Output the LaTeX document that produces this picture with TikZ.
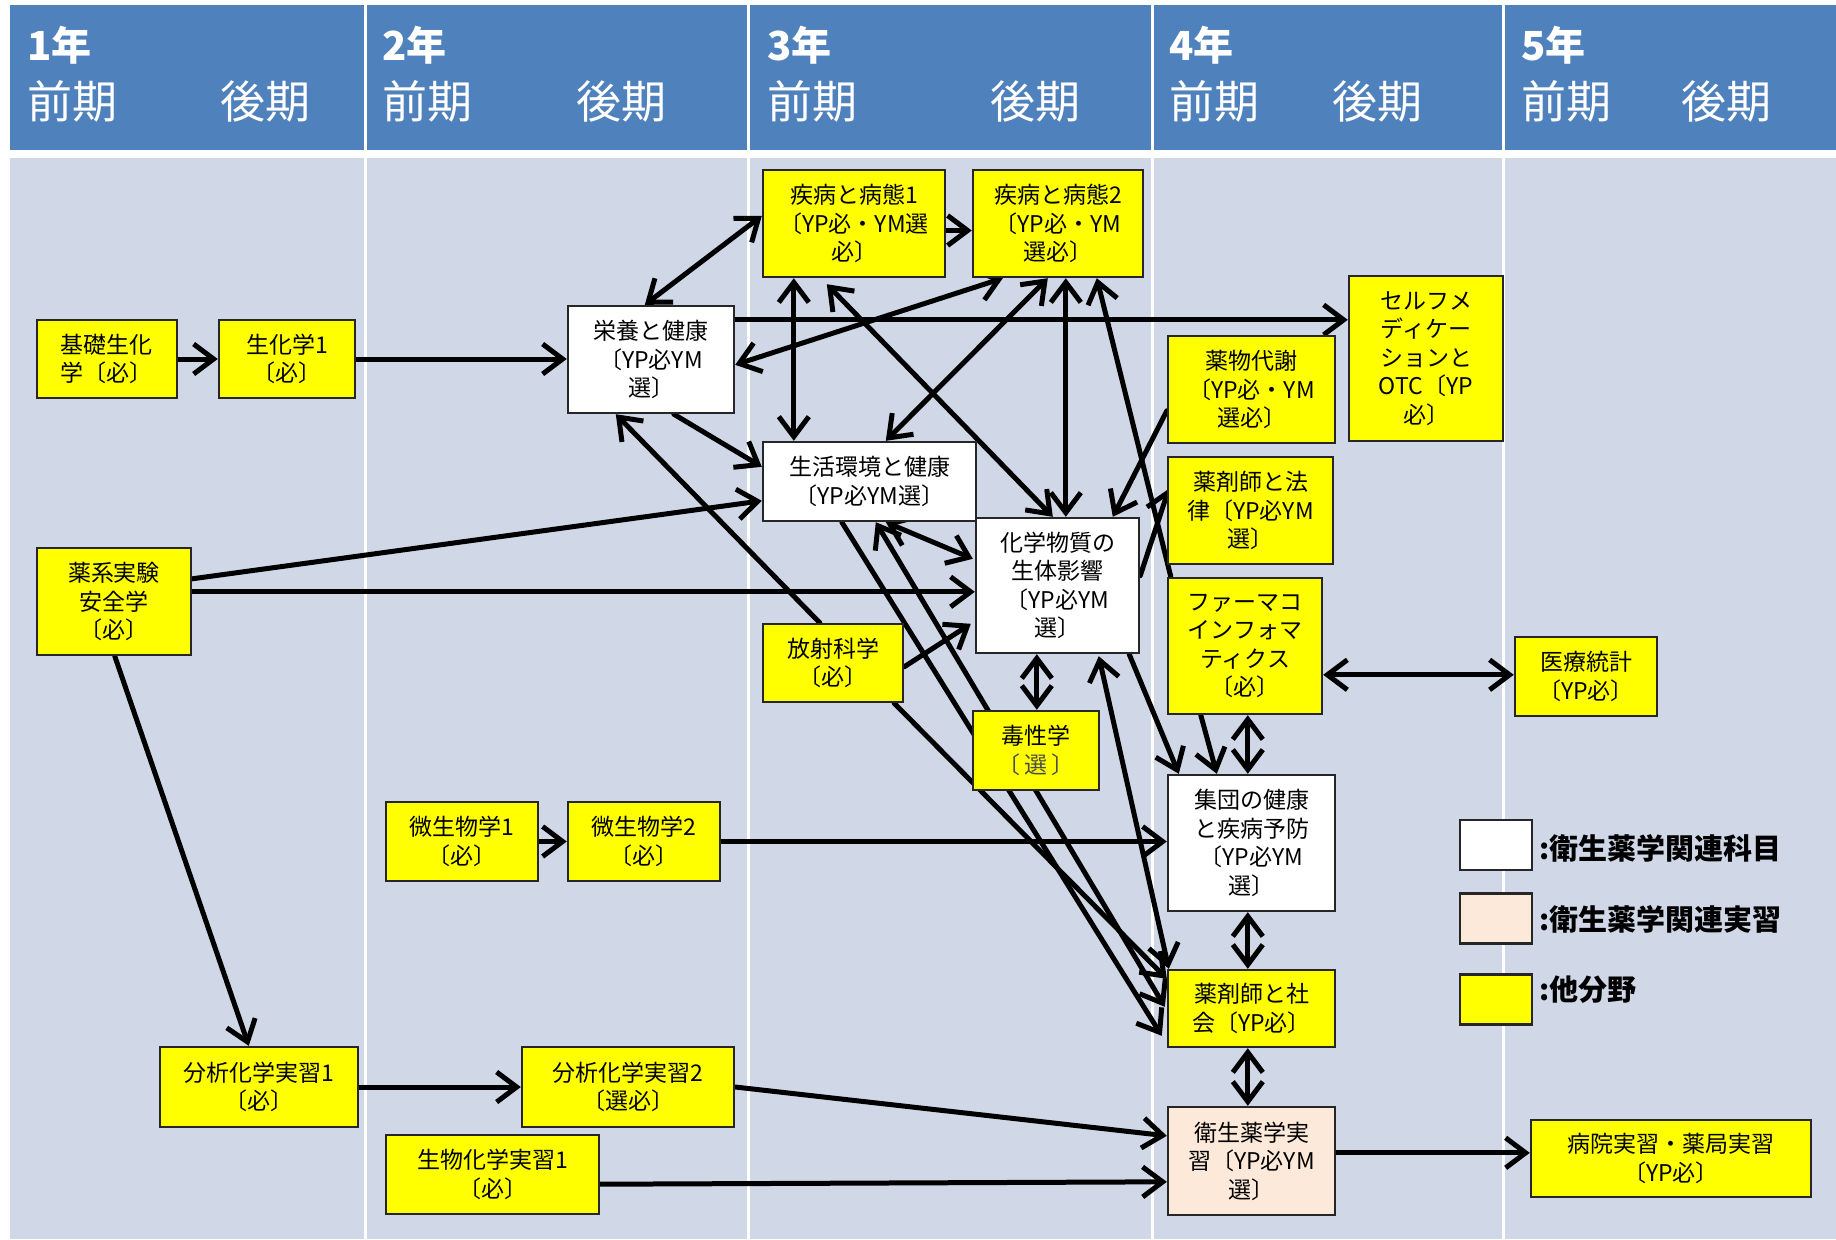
\documentclass[tikz,border=0pt]{standalone}
\usepackage{fontspec}
\setmainfont{Noto Sans CJK JP}
\usetikzlibrary{arrows.meta,calc}
\pgfdeclarelayer{bg}
\pgfdeclarelayer{links}
\pgfsetlayers{bg,links,main}
\definecolor{hdr}{RGB}{79,129,189}
\definecolor{bodyc}{RGB}{208,216,232}
\definecolor{peach}{RGB}{253,233,217}
\definecolor{yel}{RGB}{255,255,0}
\tikzset{
  subj/.style={draw=black!85, line width=1.2pt, align=center, inner sep=0pt,
    font=\fontsize{11.5pt}{14.2pt}\selectfont},
  ybox/.style={subj, fill=yel},
  wbox/.style={subj, fill=white},
  pbox/.style={subj, fill=peach},
  link/.style={line width=2.5pt, line cap=round},
  hd/.style={text=white, anchor=west, inner sep=0pt},
  yr/.style={hd, font=\bfseries\fontsize{20pt}{20pt}\selectfont},
  tm/.style={hd, font=\fontsize{22.5pt}{22.5pt}\selectfont},
  lg/.style={anchor=west, inner sep=0pt, font=\bfseries\fontsize{14.5pt}{14.5pt}\selectfont},
  lgbox/.style={draw=black!85, line width=1.2pt, minimum width=36pt, minimum height=25pt, inner sep=0pt},
  >={Straight Barb[length=10pt,width=15pt]}
}
\begin{document}
\begin{tikzpicture}[x=0.5pt,y=-0.5pt]
\useasboundingbox (0,0) rectangle (1836,1239);
\begin{pgfonlayer}{bg}
\fill[white] (0,0) rectangle (1836,1239);
\fill[hdr] (10,5) rectangle (1836,150);
\fill[bodyc] (10,158) rectangle (1836,1239);
\foreach \x in {365,748,1152,1503} \fill[white] (\x-1.5,0) rectangle (\x+1.5,1239);
\end{pgfonlayer}

% header texts
\node[yr] (y1) at (27,45) {1年};
\node[tm] (t1a) at (27,101) {前期};
\node[tm] (t1b) at (220,101) {後期};
\node[yr] (y2) at (382,45) {2年};
\node[tm] (t2a) at (382,101) {前期};
\node[tm] (t2b) at (576,101) {後期};
\node[yr] (y3) at (767,45) {3年};
\node[tm] (t3a) at (767,101) {前期};
\node[tm] (t3b) at (990,101) {後期};
\node[yr] (y4) at (1169,45) {4年};
\node[tm] (t4a) at (1169,101) {前期};
\node[tm] (t4b) at (1332,101) {後期};
\node[yr] (y5) at (1521,45) {5年};
\node[tm] (t5a) at (1521,101) {前期};
\node[tm] (t5b) at (1681,101) {後期};

% subject boxes
\node[ybox, minimum width=70pt, minimum height=39pt] (kiso) at (107,359) {基礎生化\\学〔必〕};
\node[ybox, minimum width=68pt, minimum height=39pt] (seika1) at (287,359) {生化学1\\〔必〕};
\node[wbox, minimum width=83pt, minimum height=53.5pt] (eiyo) at (651,359.5) {栄養と健康\\〔YP必YM\\選〕};
\node[ybox, minimum width=91pt, minimum height=53.5pt] (shippei1) at (854,223.5) {疾病と病態1\\〔YP必・YM選\\必〕};
\node[ybox, minimum width=85pt, minimum height=53.5pt] (shippei2) at (1058,223.5) {疾病と病態2\\〔YP必・YM\\選必〕};
\node[ybox, minimum width=77pt, minimum height=82.5pt] (self) at (1426,358.5) {セルフメ\\ディケー\\ションと\\OTC〔YP\\必〕};
\node[ybox, minimum width=83.5pt, minimum height=53.5pt] (yakubutsu) at (1251.5,389.5) {薬物代謝\\〔YP必・YM\\選必〕};
\node[wbox, minimum width=106.5pt, minimum height=39.5pt] (seikatsu) at (869.5,481.5) {生活環境と健康\\〔YP必YM選〕};
\node[ybox, minimum width=82.5pt, minimum height=53.5pt] (horitsu) at (1250.5,510.5) {薬剤師と法\\律〔YP必YM\\選〕};
\node[wbox, minimum width=81.5pt, minimum height=67.5pt] (kagaku) at (1057.5,585.5) {化学物質の\\生体影響\\〔YP必YM\\選〕};
\node[ybox, minimum width=77pt, minimum height=53.5pt] (yakkei) at (114,601.5) {薬系実験\\安全学\\〔必〕};
\node[ybox, minimum width=70pt, minimum height=39pt] (hosha) at (833,663) {放射科学\\〔必〕};
\node[ybox, minimum width=77pt, minimum height=68pt] (pharmaco) at (1245,646) {ファーマコ\\インフォマ\\ティクス\\〔必〕};
\node[ybox, minimum width=71pt, minimum height=39.5pt] (iryo) at (1586,676.5) {医療統計\\〔YP必〕};
\node[ybox, minimum width=63pt, minimum height=39.5pt] (dokusei) at (1036,750.5) {毒性学\\{\color{black!70}〔\,選\,〕}};
\node[ybox, minimum width=76pt, minimum height=39.5pt] (bisei1) at (462,841.5) {微生物学1\\〔必〕};
\node[ybox, minimum width=76pt, minimum height=39.5pt] (bisei2) at (644,841.5) {微生物学2\\〔必〕};
\node[wbox, minimum width=83.5pt, minimum height=68pt] (shudan) at (1251.5,843) {集団の健康\\と疾病予防\\〔YP必YM\\選〕};
\node[ybox, minimum width=83.5pt, minimum height=38.5pt] (shakai) at (1251.5,1008.5) {薬剤師と社\\会〔YP必〕};
\node[ybox, minimum width=99pt, minimum height=40pt] (bunseki1) at (259,1087) {分析化学実習1\\〔必〕};
\node[ybox, minimum width=106pt, minimum height=40pt] (bunseki2) at (628,1087) {分析化学実習2\\〔選必〕};
\node[ybox, minimum width=106.5pt, minimum height=39.5pt] (seibutsu) at (492.5,1174.5) {生物化学実習1\\〔必〕};
\node[pbox, minimum width=83.5pt, minimum height=54pt] (eisei) at (1251.5,1161) {衛生薬学実\\習〔YP必YM\\選〕};
\node[ybox, minimum width=140pt, minimum height=38.5pt] (byoin) at (1671,1158.5) {病院実習・薬局実習\\〔YP必〕};

% legend
\node[lgbox, fill=white] (lg1) at (1496,845) {};
\node[lgbox, fill=peach] (lg2) at (1496,918.5) {};
\node[lgbox, fill=yel] (lg3) at (1496,999.5) {};
\node[lg] (lt1) at (1539,848) {:衛生薬学関連科目};
\node[lg] (lt2) at (1539,919) {:衛生薬学関連実習};
\node[lg] (lt3) at (1539,990) {:他分野};

% connectors
\begin{pgfonlayer}{links}
\draw[link,->] (kiso.east) -- (seika1.west);
\draw[link,->] (seika1.east) -- (seika1.east -| eiyo.west);
\draw[link,<->] ($(eiyo.north west)+(78,0)$) -- ($(shippei1.north west)+(0,47)$);
\draw[link,->] ($(eiyo.north east)+(0,15)$) -- ($(self.north west)+(0,45)$);
\draw[link,<->] ($(eiyo.north east)+(0,60)$) -- ($(shippei2.south west)+(31,0)$);
\draw[link,->] ($(eiyo.south west)+(107,0)$) -- ($(seikatsu.north west)+(0,26)$);
\draw[link,->] ($(hosha.north west)+(58,0)$) -- ($(eiyo.south west)+(49,0)$);
\draw[link,->] ($(shippei1.east)+(0,7)$) -- ($(shippei2.west)+(0,7)$);
\draw[link,<->] ($(shippei1.south west)+(32,0)$) -- ($(seikatsu.north west)+(32,0)$);
\draw[link,<->] ($(shippei1.south west)+(65,6)$) -- ($(kagaku.north west)+(78,0)$);
\draw[link,<->] ($(shippei2.south west)+(76,0)$) -- ($(seikatsu.north west)+(124,0)$);
\draw[link,<->] ($(shippei2.south west)+(94,0)$) -- ($(kagaku.north west)+(91,0)$);
\draw[link,->] ($(pharmaco.north west)+(4,0)$) -- ($(shippei2.south west)+(125,0)$);
\draw[link,->] ($(yakubutsu.north west)+(0,76)$) -- ($(kagaku.north west)+(138,0)$);
\draw[link,->] ($(kagaku.north east)+(0,59)$) -- ($(horitsu.north west)+(2,33)$);
\draw[link,->] ($(yakkei.north east)+(0,32)$) -- ($(seikatsu.north west)+(0,60)$);
\draw[link,->] ($(yakkei.north east)+(0,45)$) -- ($(kagaku.north west)+(0,75)$);
\draw[link,->] ($(yakkei.south west)+(79,0)$) -- ($(bunseki1.north west)+(90,0)$);
\draw[link,<->] ($(seikatsu.south west)+(124,0)$) -- ($(kagaku.north west)+(-2,42)$);
\draw[link,->] ($(hosha.north east)+(0,44)$) -- ($(kagaku.north west)+(-4,107)$);
\draw[link,->] ($(hosha.south east)+(-10,0)$) -- ($(shakai.north west)+(0,10)$);
\draw[link,->] ($(seikatsu.south west)+(80,0)$) -- ($(shakai.north west)+(-5,67)$);
\draw[link,<->] ($(seikatsu.south west)+(114,0)$) -- ($(shakai.north west)+(-2,38)$);
\draw[link,<->] ($(kagaku.south west)+(124,2)$) -- ($(shakai.north west)+(2,0)$);
\draw[link,<->] ($(kagaku.south west)+(62,0)$) -- ($(dokusei.north west)+(65,0)$);
\draw[link,->] ($(kagaku.south east)+(-11,0)$) -- ($(shudan.north west)+(12,0)$);
\draw[link,<->] ($(pharmaco.north east)+(0,98)$) -- ($(iryo.north west)+(0,39)$);
\draw[link,->] ($(pharmaco.south west)+(34,0)$) -- ($(shudan.north west)+(50,0)$);
\draw[link,<->] ($(pharmaco.south west)+(81,0)$) -- ($(shudan.north west)+(81,0)$);
\draw[link,->] (bisei1.east) -- (bisei2.west);
\draw[link,->] (bisei2.east) -- (bisei2.east -| shudan.west);
\draw[link,<->] ($(shudan.south west)+(81,0)$) -- ($(shakai.north west)+(81,0)$);
\draw[link,<->] ($(shakai.south west)+(81,0)$) -- ($(eisei.north west)+(81,0)$);
\draw[link,->] (bunseki1.east) -- (bunseki2.west);
\draw[link,->] (bunseki2.east) -- ($(eisei.north west)+(0,30)$);
\draw[link,->] ($(seibutsu.south east)+(0,-31)$) -- ($(eisei.north west)+(0,76)$);
\draw[link,->] ($(eisei.north east)+(0,47)$) -- ($(byoin.north west)+(0,34)$);
\end{pgfonlayer}
\end{tikzpicture}
\end{document}
